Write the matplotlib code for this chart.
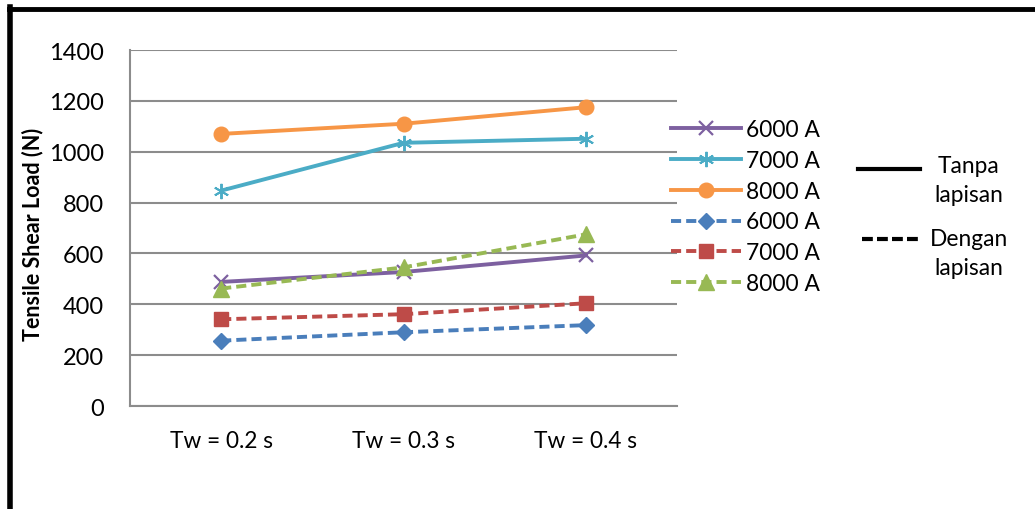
import matplotlib.pyplot as plt
from matplotlib.lines import Line2D

''' Tensile shear load vs welding time, with and without coating,
    for three welding currents.
'''

categories = ['Tw = 0.2 s', 'Tw = 0.3 s', 'Tw = 0.4 s']
currents = ['6000 A', '7000 A', '8000 A']

# tanpa lapisan (uncoated)
tanpa_6000 = [488, 527, 592]
tanpa_7000 = [847, 1035, 1051]
tanpa_8000 = [1070, 1110, 1175]

# dengan lapisan (coated)
dengan_6000 = [257, 290, 318]
dengan_7000 = [341, 361, 404]
dengan_8000 = [462, 545, 675]

plt.rcParams['font.family'] = ['Lato', 'DejaVu Sans']

W, H = 1035, 510
fig = plt.figure(figsize=(W / 100, H / 100), dpi=100)
ax = fig.add_axes([130 / W, 1 - 407 / H, (677 - 130) / W, (407 - 51) / H])

x = range(len(categories))
series = [
    (tanpa_6000, '#7D60A0', 'x', '-', 10, 1.6),
    (tanpa_7000, '#4BACC6', (6, 2, 0), '-', 11, 1.4),
    (tanpa_8000, '#F79646', 'o', '-', 10.5, 1.0),
    (dengan_6000, '#4A7EBB', 'D', '--', 8, 1.0),
    (dengan_7000, '#BE4B48', 's', '--', 10, 1.0),
    (dengan_8000, '#98B954', '^', '--', 11, 1.0),
]
lines = []
for (vals, color, marker, ls, ms, mew), label in zip(series, currents * 2):
    ln, = ax.plot(x, vals, color=color, linestyle=ls, linewidth=2.8,
                  marker=marker, markersize=ms, markeredgewidth=mew,
                  markeredgecolor=color, markerfacecolor=color,
                  dashes=(2.6, 1.3) if ls == '--' else (None, None),
                  label=label)
    lines.append(ln)

ax.set_xlim(-0.5, 2.5)
ax.set_ylim(0, 1400)
ax.set_yticks(range(0, 1401, 200))
ax.set_xticks(list(x))
ax.set_xticklabels(categories, fontsize=16.3)
ax.tick_params(axis='y', labelsize=17, length=0, pad=19)
ax.tick_params(axis='x', length=0, pad=17)
ax.yaxis.grid(True, color='#8C8C8C', linewidth=1.5)
ax.set_axisbelow(True)
for side in ['top', 'right']:
    ax.spines[side].set_visible(False)
for side in ['left', 'bottom']:
    ax.spines[side].set_color('#8C8C8C')
    ax.spines[side].set_linewidth(1.5)

fig.text(33 / W, 1 - 234 / H, 'Tensile Shear Load (N)', rotation=90,
         fontsize=15.5, fontweight='bold', ha='center', va='center')

fig.legend(handles=lines, loc='upper left',
           bbox_to_anchor=(662 / W, 1 - 111 / H),
           frameon=False, fontsize=16.4, handlelength=3.05,
           handletextpad=0.25, labelspacing=0.43, borderaxespad=0)

# line style key: solid = tanpa lapisan, dashed = dengan lapisan
fig.add_artist(Line2D([858 / W, 920 / W], [1 - 170 / H] * 2, color='black',
                      linewidth=3, transform=fig.transFigure))
fig.add_artist(Line2D([862 / W, 920 / W], [1 - 240 / H] * 2, color='black',
                      linewidth=3, dashes=(2.6, 1.0), transform=fig.transFigure))
fig.text(969 / W, 1 - 181 / H, 'Tanpa\nlapisan', fontsize=16.4, ha='center',
         va='center', multialignment='center', linespacing=1.5)
fig.text(969 / W, 1 - 254 / H, 'Dengan\nlapisan', fontsize=16.4, ha='center',
         va='center', multialignment='center', linespacing=1.5)

# black frame along the top and left edges
fig.add_artist(Line2D([9 / W, 1], [1 - 9.5 / H] * 2, color='black',
                      linewidth=3.5, transform=fig.transFigure))
fig.add_artist(Line2D([9.5 / W] * 2, [0, 1 - 8 / H], color='black',
                      linewidth=4, transform=fig.transFigure))

fig.savefig('out.png', dpi=100)
